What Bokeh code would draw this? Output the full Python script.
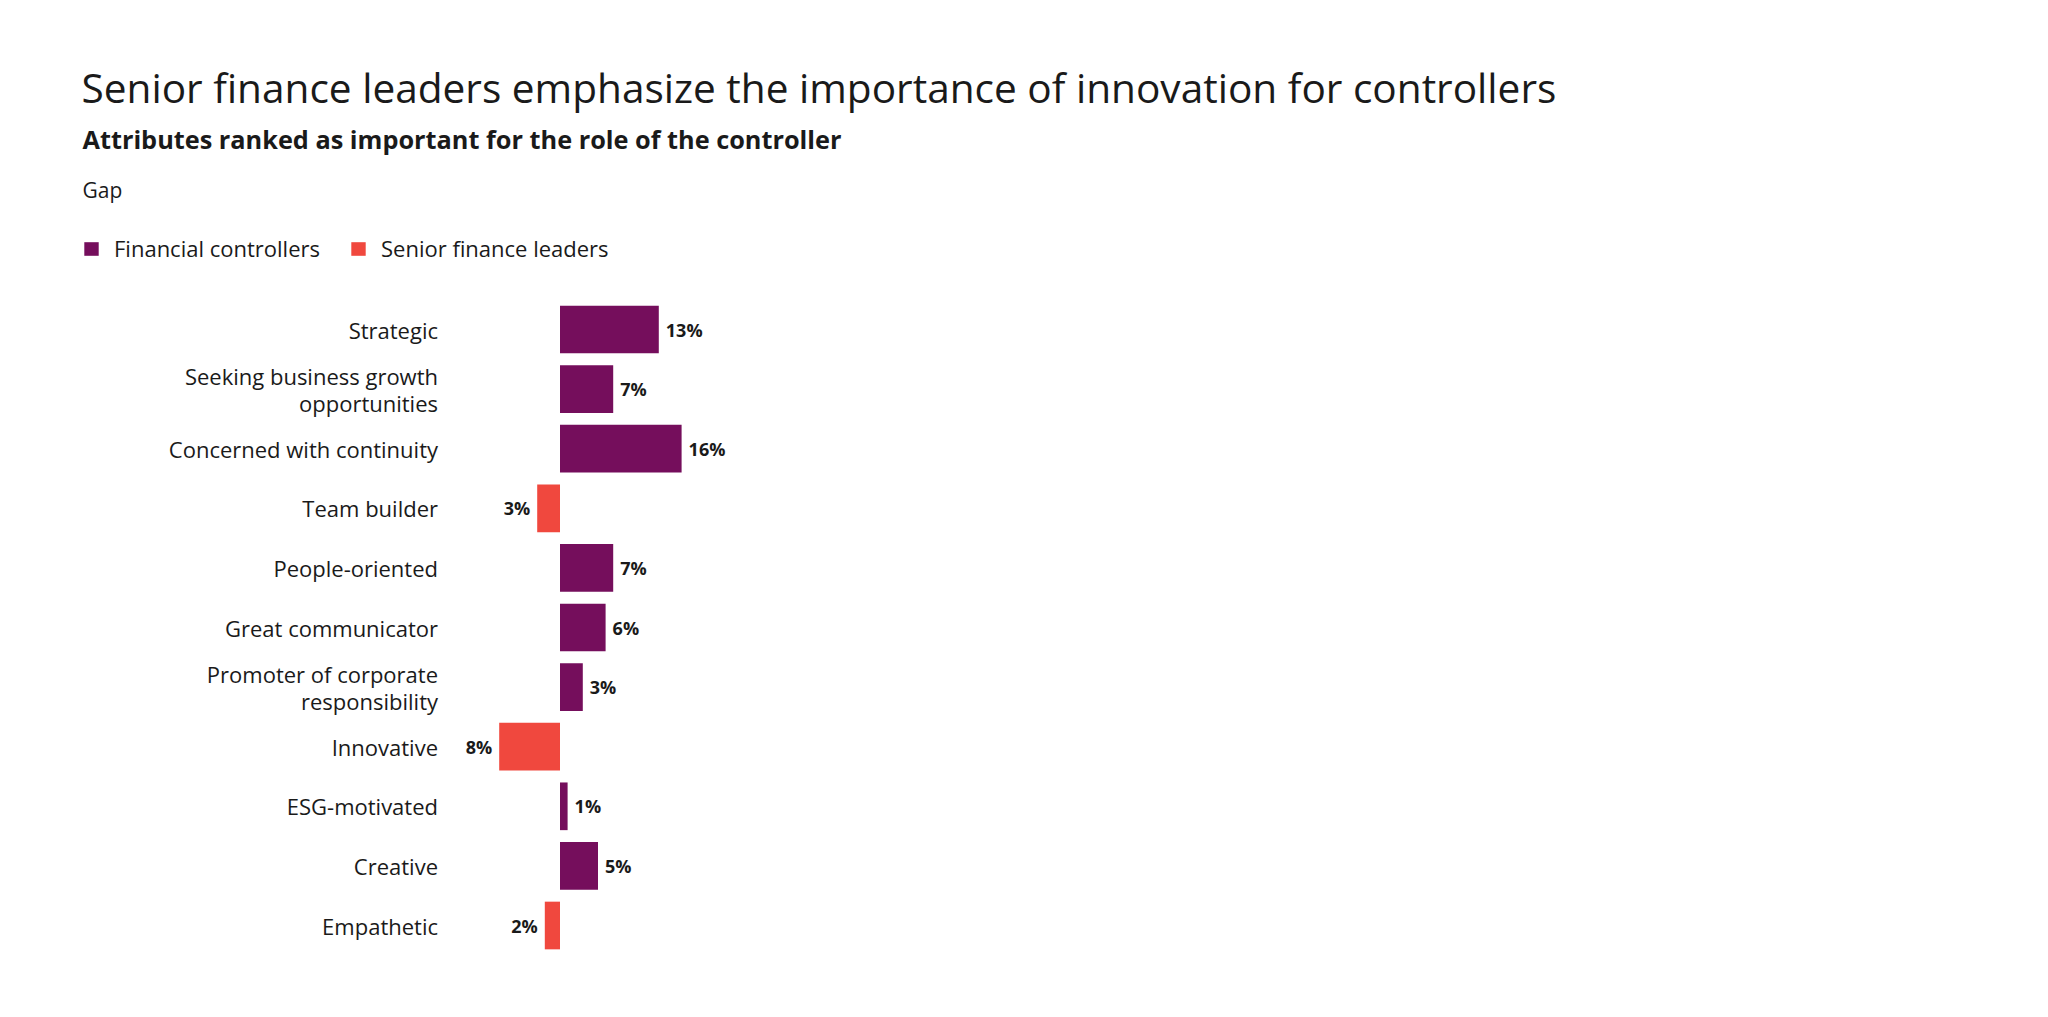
from bokeh.plotting import figure
from bokeh.models import ColumnDataSource, Range1d, Label, Legend, LegendItem
from bokeh.core.properties import value
from bokeh.embed import file_html
from bokeh.resources import INLINE
import numpy as np

# ---- data ----
categories = [
    "Strategic",
    "Seeking business growth\nopportunities",
    "Concerned with continuity",
    "Team builder",
    "People-oriented",
    "Great communicator",
    "Promoter of corporate\nresponsibility",
    "Innovative",
    "ESG-motivated",
    "Creative",
    "Empathetic",
]
gap = [13, 7, 16, -3, 7, 6, 3, -8, 1, 5, -2]
series_names = ["Financial controllers", "Senior finance leaders"]
title_text = "Senior finance leaders emphasize the importance of innovation for controllers"
subtitle_text = "Attributes ranked as important for the role of the controller"
measure_text = "Gap"

# ---- style ----
PURPLE = "#750E5C"
RED = "#F0483E"
INK = "#1a1a1a"
FONT = "Open Sans"

W, H = 2032, 1001
ZERO_PX = 559.5      # x of zero line
PX_PER = 7.6         # px per percentage point
ROW0_PX = 329.0      # y of first row center
ROW_STEP = 59.6      # px per row


def px2x(px):
    return (px - ZERO_PX) / PX_PER


def px2y(py):
    return (py - ROW0_PX) / ROW_STEP


p = figure(width=W, height=H, output_backend="svg", toolbar_location=None,
           x_range=Range1d(px2x(0), px2x(W)),
           y_range=Range1d(px2y(H), px2y(0)),
           min_border=0, min_border_left=0, min_border_right=0,
           min_border_top=0, min_border_bottom=0)
p.axis.visible = False
p.grid.visible = False
p.outline_line_color = None
p.background_fill_color = "white"
p.border_fill_color = "white"

vals = np.array(gap, dtype=float)
idx = np.arange(len(categories))
pos = vals >= 0

src_pos = ColumnDataSource(dict(y=idx[pos], v=vals[pos]))
src_neg = ColumnDataSource(dict(y=idx[~pos], v=vals[~pos]))

r_pos = p.hbar(y="y", left=0, right="v", height=0.8, source=src_pos,
               fill_color=PURPLE, line_color=None)
r_neg = p.hbar(y="y", left=0, right="v", height=0.8, source=src_neg,
               fill_color=RED, line_color=None)

# value labels
lab_src = ColumnDataSource(dict(
    x=vals, y=idx,
    t=[f"{abs(int(v))}%" for v in vals],
    xo=[7 if v >= 0 else -7 for v in vals],
    al=["left" if v >= 0 else "right" for v in vals],
))
p.text(x="x", y="y", text="t", x_offset="xo", text_align="al", source=lab_src,
       text_baseline="middle", text_font=value(FONT), text_font_style="bold",
       text_font_size="18px", text_color=INK)

# category labels
cat_src = ColumnDataSource(dict(x=[px2x(437.5)] * len(categories), y=idx, t=categories))
p.text(x="x", y="y", text="t", source=cat_src, text_align="right",
       text_baseline="middle", text_font=value(FONT), text_font_size="22px",
       text_color=INK, text_line_height=0.9)

# titles
p.add_layout(Label(x=px2x(81), y=px2y(87), text=title_text, text_font=FONT,
                   text_font_size="40.6px", text_color=INK, text_baseline="alphabetic"))
p.add_layout(Label(x=px2x(82), y=px2y(138), text=subtitle_text, text_font=FONT,
                   text_font_style="bold", text_font_size="25.3px", text_color=INK,
                   text_baseline="alphabetic"))
p.add_layout(Label(x=px2x(82), y=px2y(189), text=measure_text, text_font=FONT,
                   text_font_size="21px", text_color=INK, text_baseline="alphabetic"))

legend = Legend(items=[LegendItem(label=series_names[0], renderers=[r_pos]),
                       LegendItem(label=series_names[1], renderers=[r_neg])],
                orientation="horizontal", location=(82, H - 237 - 26),
                glyph_width=18, glyph_height=17, label_standoff=14, spacing=29,
                padding=0, margin=0, border_line_alpha=0, background_fill_alpha=0,
                label_text_font=FONT, label_text_font_size="22px",
                label_text_color=INK, label_height=17)
p.add_layout(legend, "center")

open("out.html", "w").write(file_html(p, INLINE))
